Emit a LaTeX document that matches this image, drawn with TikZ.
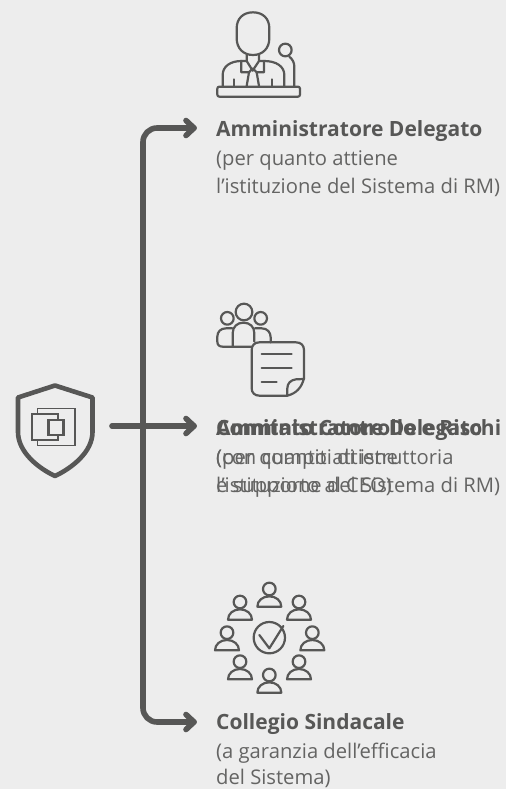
\documentclass[tikz,border=0pt]{standalone}
\usepackage{fontspec}
\setmainfont{Open Sans}
\definecolor{ink}{RGB}{87,87,86}
\definecolor{inkl}{RGB}{100,100,99}
\definecolor{bg}{RGB}{237,237,237}
\tikzset{
 flow/.style={draw=ink,line width=5.6pt,line cap=round,line join=round},
 icon/.style={draw=ink,line width=2.2pt,line cap=round,line join=round},
 head label/.style={anchor=base west,inner sep=0,text=ink,font=\fontsize{21}{23}\selectfont\bfseries},
 body label/.style={anchor=base west,inner sep=0,text=inkl,font=\fontsize{20.2}{23}\selectfont}
}
\begin{document}
\begin{tikzpicture}[x=1pt,y=-1pt]
\fill[bg] (0,0) rectangle (506,789);
\useasboundingbox (0,0) rectangle (506,789);
% shield
\draw[draw=ink,line width=4.6pt,line join=round] (55,385.5) -- (18,397.5) -- (18,432) .. controls (18,452) and (38,468) .. (55,476) .. controls (72,468) and (92.5,452) .. (92.5,432) -- (92.5,397.5) -- cycle;
\draw[ink,line width=1.7pt] (37.5,408.5) rectangle (75,445.5);
\draw[ink,fill=bg,line width=1.7pt] (32,414) rectangle (58.3,440);
\draw[ink,fill=bg,line width=2.4pt] (48.3,420) rectangle (63.3,435);
% connectors
\coordinate (stem) at (112,426);
\coordinate (a1) at (194,128);
\coordinate (a2) at (194,426);
\coordinate (a3) at (194,722);
\draw[flow] (a1) -- (157,128) arc[start angle=270,end angle=180,radius=14] -- (143,708) arc[start angle=180,end angle=90,radius=14] -- (a3);
\draw[flow] (stem) -- (a2);
\foreach \c in {a1,a2,a3}{
 \draw[flow] ([shift={(-8,-7.5)}]\c) -- (\c) -- ([shift={(-8,7.5)}]\c);
}
% speaker icon
\begin{scope}[shift={(200,0)},x=0.3333pt,y=-0.3333pt]
\draw[icon,rounded corners=2pt] (52,260) rectangle (300,290);
\draw[icon] (110,85) .. controls (110,55) and (130,37) .. (159,37) .. controls (188,37) and (208,55) .. (208,85) -- (208,115) .. controls (208,145) and (188,165) .. (159,165) .. controls (130,165) and (110,145) .. (110,115) -- cycle;
\draw[icon] (68,258) -- (68,225) .. controls (68,200) and (90,183) .. (125,183) -- (140,183) (253,258) -- (253,225) .. controls (253,200) and (230,183) .. (192,183) -- (178,183);
\draw[icon] (140,165) -- (140,183) -- (158,212) -- (177,183) -- (177,165);
\draw[icon] (124,183) -- (124,217) -- (147,217) -- (158,205) (192,183) -- (192,217) -- (170,217) -- (158,205);
\draw[icon] (147,217) -- (140,258) (170,217) -- (177,258);
\draw[icon] (103,238) -- (103,258) (215,238) -- (215,258);
\draw[icon] (256,150) circle[radius=19];
\draw[icon] (268,170) .. controls (278,178) and (283,188) .. (283,200) -- (283,258);
\end{scope}
% committee icon
\begin{scope}[shift={(200,300)},x=0.3333pt,y=-0.3333pt]
\draw[icon] (132,36) circle[radius=25] (82,55) circle[radius=19] (182,55) circle[radius=19];
\draw[icon] (98,138) -- (98,100) .. controls (98,80) and (112,68) .. (130,68) .. controls (150,68) and (163,80) .. (163,100) -- (163,125);
\draw[icon] (97,85) -- (78,85) .. controls (62,85) and (52,95) .. (52,110) -- (52,125) .. controls (52,135) and (58,140) .. (68,140) -- (155,140);
\draw[icon] (165,85) -- (185,85) .. controls (202,85) and (212,97) .. (212,112) -- (212,127);
\draw[icon] (178,127) -- (288,127) .. controls (303,127) and (312,136) .. (312,150) -- (312,235) .. controls (305,262) and (290,280) .. (262,287) -- (178,287) .. controls (164,287) and (155,278) .. (155,265) -- (155,150) .. controls (155,136) and (164,127) .. (178,127) -- cycle;
\draw[icon] (312,237) -- (288,238) .. controls (272,240) and (262,250) .. (262,265) -- (262,287);
\draw[icon] (185,163) -- (275,163) (185,205) -- (275,205) (185,245) -- (230,245);
\end{scope}
% council icon
\begin{scope}[shift={(200,580)},x=0.3333pt,y=-0.3333pt]
\foreach \px/\py in {208/27,120/66,297/66,81/158,337/158,120/245,297/245,208/285}{
 \begin{scope}[shift={(\px*0.3333pt,\py*-0.3333pt)}]
 \draw[icon] (0,0) circle[radius=19];
 \draw[icon] (-36,53) -- (36,53) .. controls (36,35) and (20,22) .. (0,22) .. controls (-20,22) and (-36,35) .. (-36,53) -- cycle;
 \end{scope}
}
\draw[icon] (208,173) circle[radius=47];
\draw[icon] (178,165) -- (208,205) -- (250,138);
\end{scope}
% labels
\node[head label] (h1) at (216,136) {Amministratore Delegato};
\node[body label] (b1a) at (216,165) {(per quanto attiene};
\node[body label] (b1b) at (216,193) {l'istituzione del Sistema di RM)};
\node[head label] (h2a) at (216,435) {Amministratore Delegato};
\node[head label] (h2b) at (216,435) {Comitato Controllo e Rischi};
\node[body label] (b2a) at (216,464) {(per quanto attiene};
\node[body label] (b2b) at (216,464) {(con compiti di istruttoria};
\node[body label] (b2c) at (216,492) {l'istituzione del Sistema di RM)};
\node[body label] (b2d) at (216,492) {e supporto al CEO)};
\node[head label] (h3) at (216,729.5) {Collegio Sindacale};
\node[body label] (b3a) at (216,758) {(a garanzia dell'efficacia};
\node[body label] (b3b) at (216,784) {del Sistema)};
\end{tikzpicture}
\end{document}
